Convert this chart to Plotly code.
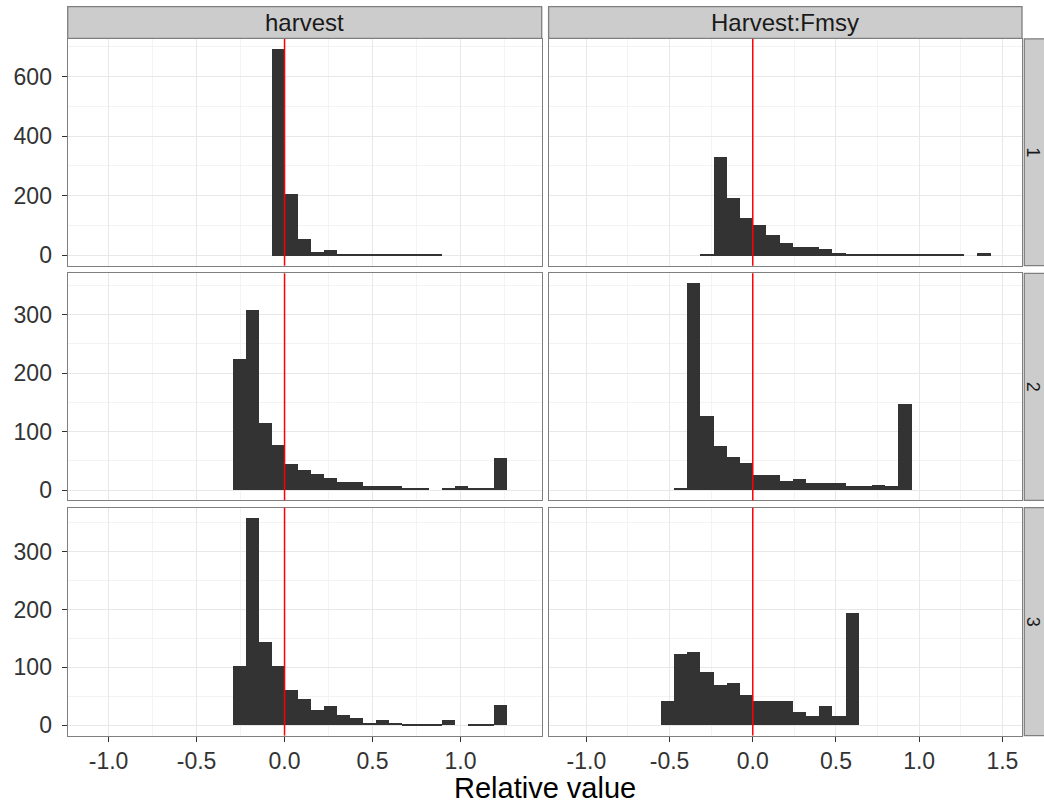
import plotly.graph_objects as go

W, H = 1044, 807

# ---- histogram data -------------------------------------------------------
# Each facet: index of its first bin (bins counted in bin widths from 0) and counts.
harvest_binwidth = 0.0742
fmsy_binwidth = 0.0793

harvest_1_first = -1
harvest_1_counts = [692, 206, 54, 11, 19, 4, 3, 3, 2, 2, 2, 2, 2]

harvest_2_first = -4
harvest_2_counts = [224, 308, 114, 76, 44, 34, 27, 20, 14, 14, 7, 7, 7,
                    2, 2, 0, 2, 7, 2, 2, 54]

harvest_3_first = -4
harvest_3_counts = [103, 358, 144, 103, 62, 46, 26, 33, 19, 13, 5, 10, 5,
                    2, 2, 2, 9, 0, 2, 2, 36]

fmsy_1_first = -4
fmsy_1_counts = [3, 329, 192, 127, 101, 68, 42, 29, 29, 23, 9,
                 4, 3, 3, 3, 3, 2, 2, 2, 2, 0, 10]

fmsy_2_first = -6
fmsy_2_counts = [3, 353, 126, 75, 56, 46, 26, 26, 15, 19, 12, 12, 12,
                 6, 6, 9, 6, 146]

fmsy_3_first = -7
fmsy_3_counts = [43, 124, 127, 93, 70, 73, 53, 43, 43, 43, 23, 16, 33, 16, 194]

column_labels = ["harvest", "Harvest:Fmsy"]
row_labels = ["1", "2", "3"]
x_axis_title = "Relative value"
reference_value = 0.0

x_tick_values = [[-1.0, -0.5, 0.0, 0.5, 1.0],
                 [-1.0, -0.5, 0.0, 0.5, 1.0, 1.5]]
x_tick_labels = [["-1.0", "-0.5", "0.0", "0.5", "1.0"],
                 ["-1.0", "-0.5", "0.0", "0.5", "1.0", "1.5"]]
y_tick_steps = [200, 100, 100]

panels = [
    # (row, col, first bin, counts, bin width)
    (0, 0, harvest_1_first, harvest_1_counts, harvest_binwidth),
    (0, 1, fmsy_1_first, fmsy_1_counts, fmsy_binwidth),
    (1, 0, harvest_2_first, harvest_2_counts, harvest_binwidth),
    (1, 1, fmsy_2_first, fmsy_2_counts, fmsy_binwidth),
    (2, 0, harvest_3_first, harvest_3_counts, harvest_binwidth),
    (2, 1, fmsy_3_first, fmsy_3_counts, fmsy_binwidth),
]

# ---- layout geometry (pixels -> paper) -----------------------------------
def px_x(v):
    return v / W

def px_y(v):
    return 1 - v / H

col_px = [(67.7, 541.7), (548.6, 1022.0)]
row_px = [(39.0, 266.7), (274.3, 502.3), (509.6, 738.3)]
x_ranges = [[-1.232, 1.461], [-1.227, 1.618]]

FONT = "Liberation Sans, Arial, Helvetica, sans-serif"
BAR = "#333333"
BORDER = "#7f7f7f"
GRID_MAJOR = "#e8e8e8"
GRID_MINOR = "#f3f3f3"
STRIP_FILL = "#cccccc"
TEXT = "#1a1a1a"
TICK_TEXT = "#333333"
TICK_SIZE = 23
STRIP_SIZE = 24
TITLE_SIZE = 29

# y range per row: 5% padding around [0, max count]
row_max = [0, 0, 0]
for r, c, first, counts, w in panels:
    row_max[r] = max(row_max[r], max(counts))
y_ranges = [[-0.05 * m, 1.05 * m] for m in row_max]

fig = go.Figure()
layout = dict(
    width=W, height=H,
    margin=dict(l=0, r=0, t=0, b=0),
    paper_bgcolor="white", plot_bgcolor="white",
    showlegend=False, bargap=0,
    font=dict(family=FONT, size=TICK_SIZE, color=TICK_TEXT),
)
shapes = []
annotations = []

for i, (r, c, first, counts, w) in enumerate(panels, start=1):
    xa = "x" if i == 1 else f"x{i}"
    ya = "y" if i == 1 else f"y{i}"
    centers = [(first + k + 0.5) * w for k in range(len(counts))]
    fig.add_trace(go.Bar(
        x=centers, y=counts, width=w, xaxis=xa, yaxis=ya,
        marker=dict(color=BAR, line=dict(width=0)),
        hoverinfo="x+y",
    ))
    bottom = r == 2
    left = c == 0
    layout["xaxis" if i == 1 else f"xaxis{i}"] = dict(
        domain=[px_x(col_px[c][0]), px_x(col_px[c][1])],
        anchor=ya, range=x_ranges[c],
        tickmode="array", tickvals=x_tick_values[c], ticktext=x_tick_labels[c],
        showticklabels=bottom, ticks="outside" if bottom else "",
        ticklen=5, tickwidth=1, tickcolor=TICK_TEXT,
        tickfont=dict(size=TICK_SIZE, color=TICK_TEXT),
        showline=True, mirror=True, linecolor=BORDER, linewidth=1.3,
        showgrid=True, gridcolor=GRID_MAJOR, gridwidth=1, zeroline=False,
        minor=dict(tickmode="linear", tick0=0.25, dtick=0.5,
                   showgrid=True, gridcolor=GRID_MINOR, gridwidth=1, ticks=""),
    )
    layout["yaxis" if i == 1 else f"yaxis{i}"] = dict(
        domain=[px_y(row_px[r][1]), px_y(row_px[r][0])],
        anchor=xa, range=y_ranges[r],
        tickmode="linear", tick0=0, dtick=y_tick_steps[r],
        showticklabels=left, ticks="outside" if left else "",
        ticklen=5, tickwidth=1, tickcolor=TICK_TEXT, ticklabelstandoff=5,
        tickfont=dict(size=TICK_SIZE, color=TICK_TEXT),
        showline=True, mirror=True, linecolor=BORDER, linewidth=1.3,
        showgrid=True, gridcolor=GRID_MAJOR, gridwidth=1, zeroline=False,
        minor=dict(tickmode="linear", tick0=y_tick_steps[r] / 2,
                   dtick=y_tick_steps[r], showgrid=True,
                   gridcolor=GRID_MINOR, gridwidth=1, ticks=""),
    )
    # reference line at zero across the full panel height
    shapes.append(dict(
        type="line", xref=xa, yref=f"{ya} domain",
        x0=reference_value, x1=reference_value, y0=0, y1=1,
        line=dict(color="#ff0000", width=1.5), layer="above",
    ))

# column strips on top
for c, label in enumerate(column_labels):
    x0, x1 = col_px[c]
    shapes.append(dict(
        type="rect", xref="paper", yref="paper",
        x0=px_x(x0), x1=px_x(x1), y0=px_y(38.5), y1=px_y(6.7),
        fillcolor=STRIP_FILL, line=dict(color=BORDER, width=1.3), layer="below",
    ))
    annotations.append(dict(
        text=label, xref="paper", yref="paper",
        x=px_x((x0 + x1) / 2), y=px_y(23), xanchor="center", yanchor="middle",
        showarrow=False, font=dict(family=FONT, size=STRIP_SIZE, color=TEXT),
    ))

# row strips on the right edge
for r, label in enumerate(row_labels):
    y0, y1 = row_px[r]
    shapes.append(dict(
        type="rect", xref="paper", yref="paper",
        x0=px_x(1024.3), x1=px_x(1056), y0=px_y(y1), y1=px_y(y0),
        fillcolor=STRIP_FILL, line=dict(color=BORDER, width=1.3), layer="below",
    ))
    annotations.append(dict(
        text=label, xref="paper", yref="paper",
        x=px_x(1033), y=px_y((y0 + y1) / 2), xanchor="center", yanchor="middle",
        textangle=90, showarrow=False, borderpad=0,
        font=dict(family=FONT, size=18, color=TEXT),
    ))

# shared x-axis title
annotations.append(dict(
    text=x_axis_title, xref="paper", yref="paper",
    x=px_x((col_px[0][0] + col_px[1][1]) / 2), y=px_y(791),
    xanchor="center", yanchor="middle", showarrow=False, borderpad=0,
    font=dict(family=FONT, size=TITLE_SIZE, color="#000000"),
))

layout["shapes"] = shapes
layout["annotations"] = annotations
fig.update_layout(**layout)
fig.write_html("out.html")
